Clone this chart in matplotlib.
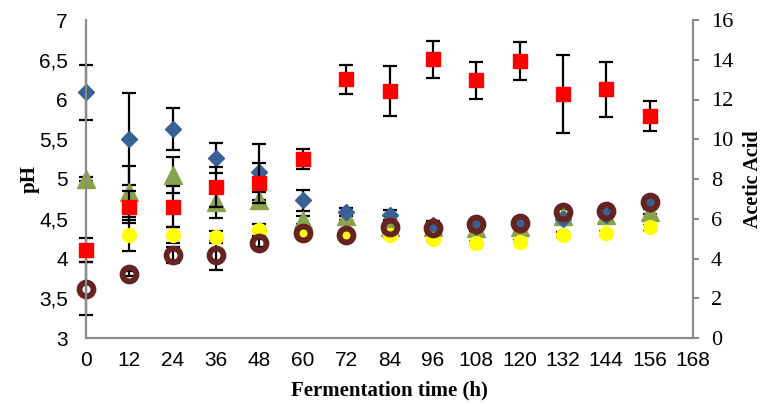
import matplotlib
matplotlib.use("Agg")
import matplotlib.pyplot as plt
from matplotlib.ticker import FuncFormatter, MultipleLocator

time_h = [0, 12, 24, 36, 48, 60, 72, 84, 96, 108, 120, 132, 144, 156]

ph_blue = [6.09, 5.50, 5.63, 5.26, 5.09, 4.73, 4.59, 4.55, 4.42, 4.40, 4.46, 4.50, 4.55, 4.69]
ph_blue_err = [0.35, 0.58, 0.26, 0.19, 0.35, 0.13, 0.05, 0.06, 0.05, 0.03, 0.03, 0.06, 0.03, 0.04]

ph_green = [5.00, 4.84, 5.05, 4.71, 4.74, 4.48, 4.53, 4.40, 4.40, 4.38, 4.40, 4.53, 4.55, 4.59]
ph_green_err = [0.02, 0.32, 0.23, 0.20, 0.10, 0.05, 0.04, 0.04, 0.03, 0.03, 0.03, 0.03, 0.03, 0.03]

ph_yellow = [4.10, 4.29, 4.30, 4.27, 4.36, 4.32, 4.30, 4.30, 4.25, 4.20, 4.21, 4.30, 4.32, 4.39]
ph_yellow_err = [0.05, 0.19, 0.10, 0.08, 0.08, 0.03, 0.03, 0.03, 0.03, 0.02, 0.02, 0.03, 0.02, 0.03]

ph_brown = [3.62, 3.81, 4.04, 4.04, 4.19, 4.32, 4.30, 4.39, 4.38, 4.43, 4.45, 4.59, 4.60, 4.71]
ph_brown_err = [0.33, 0.03, 0.10, 0.19, 0.05, 0.03, 0.03, 0.03, 0.03, 0.02, 0.02, 0.03, 0.02, 0.03]

acetic = [4.43, 6.58, 6.61, 7.58, 7.78, 8.99, 13.02, 12.43, 14.02, 12.98, 13.94, 12.28, 12.51, 11.18]
acetic_err = [0.60, 0.80, 1.05, 1.00, 1.00, 0.50, 0.74, 1.27, 0.92, 0.93, 0.95, 1.95, 1.37, 0.74]

x_ticks = list(range(0, 169, 12))

fig = plt.figure(figsize=(7.63, 4.04), dpi=100)
ax = fig.add_axes([86/763, 1-338/404, (693-86)/763, (338-20)/404])
ax2 = ax.twinx()

eb = dict(fmt='none', ecolor='black', elinewidth=1.6, capsize=5, capthick=1.6, zorder=1.5, clip_on=False)

ax.errorbar(time_h, ph_green, yerr=ph_green_err, **eb)
ax.errorbar(time_h, ph_blue, yerr=ph_blue_err, **eb)
ax.errorbar(time_h, ph_yellow, yerr=ph_yellow_err, **eb)
ax.errorbar(time_h, ph_brown, yerr=ph_brown_err, **eb)
ax2.errorbar(time_h, acetic, yerr=acetic_err, **eb)

mk = dict(linestyle='none', clip_on=False)
ax.plot(time_h, ph_green, marker='^', ms=13, mfc='#8BA24D', mec='#8BA24D', zorder=3, **mk)
ax.plot(time_h, ph_blue, marker='D', ms=8, mfc='#386196', mec='#386196', zorder=4, **mk)
ax.plot(time_h, ph_yellow, marker='o', ms=10, mfc='#FFFF00', mec='#FFFF00', zorder=5, **mk)
ax.plot(time_h, ph_brown, marker='o', ms=10, mfc='none', mec='#652421', mew=4.2, zorder=6, **mk)
ax2.plot(time_h, acetic, marker='s', ms=10.5, mfc='#FF0000', mec='#FF0000', zorder=5, **mk)

ax.set_xlim(0, 168)
ax.set_ylim(3, 7)
ax2.set_ylim(0, 16)
ax.set_xticks(x_ticks)
ax.yaxis.set_major_locator(MultipleLocator(0.5))
ax2.yaxis.set_major_locator(MultipleLocator(2))
ax.yaxis.set_major_formatter(FuncFormatter(lambda v, p: ('%g' % v).replace('.', ',')))

spine_c = '#8C8C8C'
for a in (ax, ax2):
    a.spines['top'].set_visible(False)
    for s in ('left', 'right', 'bottom'):
        a.spines[s].set_color(spine_c)
        a.spines[s].set_linewidth(1.5)

sans = ['Liberation Sans', 'DejaVu Sans']
serif = ['Liberation Serif', 'DejaVu Serif']
ax.tick_params(axis='x', length=0, pad=9, labelsize=15)
ax.tick_params(axis='y', length=0, pad=13, labelsize=15)
ax2.tick_params(axis='y', length=4, color=spine_c, width=1.5, pad=9, labelsize=16)
for t in ax.get_xticklabels() + ax.get_yticklabels():
    t.set_fontfamily(sans)
for t in ax2.get_yticklabels():
    t.set_fontfamily(serif)

ax.set_xlabel('Fermentation time (h)', fontfamily=serif, fontweight='bold', fontsize=15, labelpad=8)
ax.set_ylabel('pH', fontfamily=serif, fontweight='bold', fontsize=15, va='center')
ax2.set_ylabel('Acetic Acid', fontfamily=serif, fontweight='bold', fontsize=14.5, va='center', rotation=90)
ax.yaxis.set_label_coords((30-86)/607, 0.5)
ax2.yaxis.set_label_coords((753-86)/607, 0.5)

fig.savefig('out.png', dpi=100)
